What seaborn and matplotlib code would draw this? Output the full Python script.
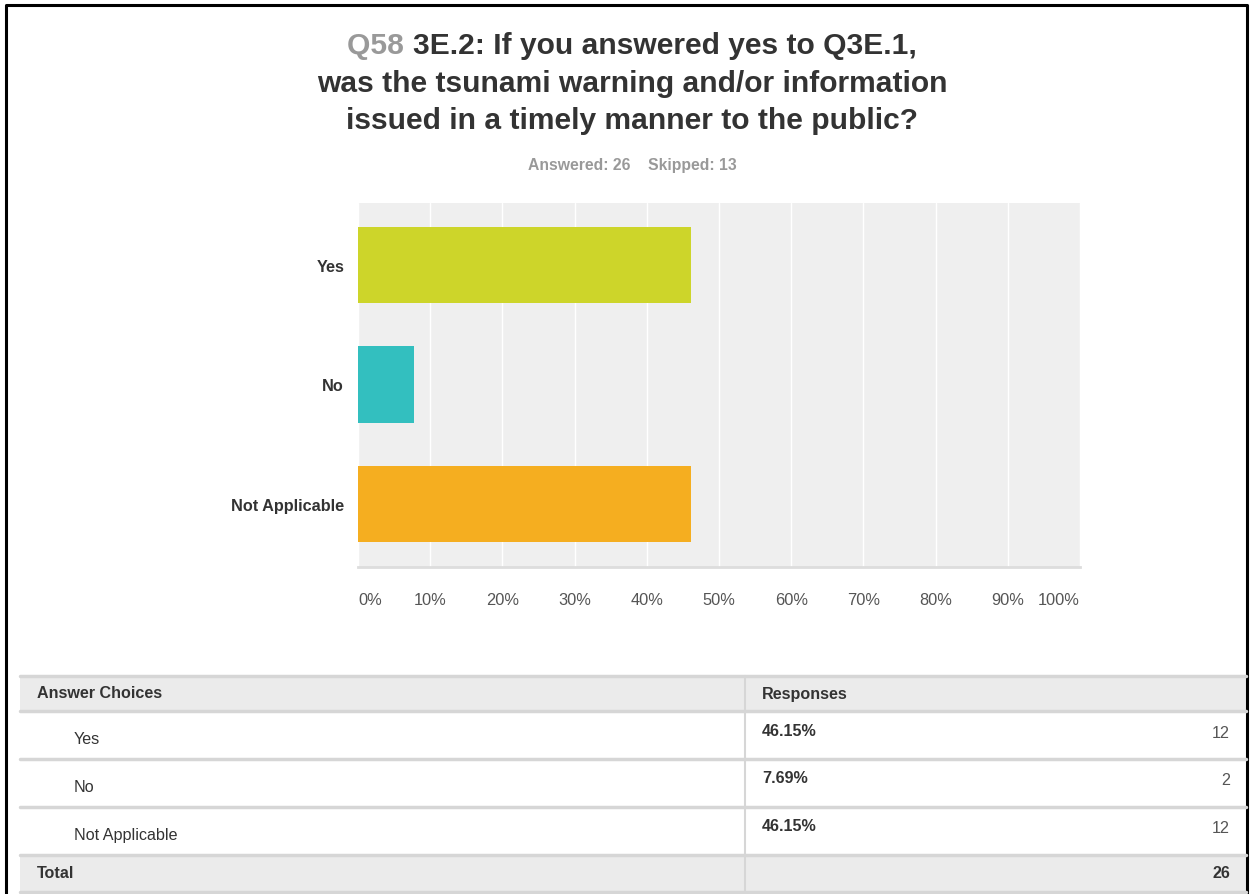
import matplotlib
matplotlib.use("Agg")
import matplotlib.pyplot as plt
import seaborn as sns
import pandas as pd
from matplotlib.patches import Rectangle

# === Data
categories = ["Yes", "No", "Not Applicable"]
percents = [46.15, 7.69, 46.15]
counts = [12, 2, 12]
total = 26
skipped = 13
bar_colors = ["#CDD52A", "#33BFBF", "#F5AE20"]
xticks = [0, 10, 20, 30, 40, 50, 60, 70, 80, 90, 100]

sns.set_theme(style="white")
plt.rcParams["font.family"] = ["Liberation Sans", "DejaVu Sans"]

W, H = 1251, 895
fig = plt.figure(figsize=(W / 100, H / 100), dpi=100)

# === Overlay axes in pixel coords for border, title and table
bg = fig.add_axes([0, 0, 1, 1])
bg.set_xlim(0, W)
bg.set_ylim(H, 0)
bg.axis("off")

# === Bar chart
ax = fig.add_axes([358 / W, 1 - 568 / H, (1080 - 358) / W, (568 - 204) / H])
df = pd.DataFrame({"choice": categories, "pct": percents})
sns.barplot(data=df, x="pct", y="choice", hue="choice", palette=bar_colors,
            orient="h", width=0.64, legend=False, ax=ax, saturation=1, linewidth=0)
ax.set_facecolor("#EFEFEF")
ax.set_xlim(0, 100)
ax.set_ylim(2.53, -0.52)
ax.set_xticks(xticks)
ax.set_xticklabels([f"{t}%" for t in xticks], fontsize=11.8, color="#555555")
for i, lbl in enumerate(ax.get_xticklabels()):
    if i == 0:
        lbl.set_horizontalalignment("left")
    elif i == len(xticks) - 1:
        lbl.set_horizontalalignment("right")
ax.tick_params(axis="x", length=0, pad=18)
ax.tick_params(axis="y", length=0, pad=10)
for lbl in ax.get_yticklabels():
    lbl.set_fontweight("bold")
    lbl.set_fontsize(11.7)
    lbl.set_color("#333333")
ax.set_xlabel("")
ax.set_ylabel("")
ax.set_axisbelow(True)
ax.grid(axis="x", color="white", linewidth=1.0)
for s in ["top", "left", "right"]:
    ax.spines[s].set_visible(False)
ax.spines["bottom"].set_color("#DDDDDD")
ax.spines["bottom"].set_linewidth(2)

# === Outer border
bg.plot([6, 6, 1247, 1247], [H, 6, 6, H], color="black", linewidth=2.2, clip_on=False)

# === Title
renderer = fig.canvas.get_renderer()
title_kw = dict(fontsize=21.6, fontweight="bold", va="center")
first_q = "Q58 "
first_rest = "3E.2: If you answered yes to Q3E.1,"
tmp = bg.text(0, 0, first_q + first_rest, **title_kw)
full_w = tmp.get_window_extent(renderer).width
tmp.remove()
tmp = bg.text(0, 0, first_q, **title_kw)
q_w = tmp.get_window_extent(renderer).width
tmp.remove()
cx = 632
x0 = cx - full_w / 2
bg.text(x0, 46, first_q, color="#999999", ha="left", **title_kw)
bg.text(x0 + q_w, 46, first_rest, color="#333333", ha="left", **title_kw)
bg.text(cx, 84, "was the tsunami warning and/or information", color="#333333", ha="center", **title_kw)
bg.text(cx, 121, "issued in a timely manner to the public?", color="#333333", ha="center", **title_kw)
bg.text(cx, 165, f"Answered: {total}    Skipped: {skipped}", color="#999999",
        ha="center", va="center", fontsize=11.3, fontweight="bold")

# === Table
tl, tr, tdiv = 20, 1246, 745
row_edges = [677, 712, 760, 808, 856, 893]
line_c = "#D6D6D6"
bg.add_patch(Rectangle((tl, 677), tr - tl, 35, facecolor="#EBEBEB", edgecolor="none"))
bg.add_patch(Rectangle((tl, 856), tr - tl, 37, facecolor="#EBEBEB", edgecolor="none"))
for y in row_edges:
    bg.plot([tl, tr], [y, y], color=line_c, linewidth=2.5)
bg.plot([tdiv, tdiv], [677, 893], color=line_c, linewidth=1.5)

txt_c = "#333333"
fs = 11.6
bg.text(37, 694, "Answer Choices", fontsize=fs, fontweight="bold", color=txt_c, va="center")
bg.text(762, 694, "Responses", fontsize=fs, fontweight="bold", color=txt_c, va="center")
for i, (cat, pct, n) in enumerate(zip(categories, percents, counts)):
    top = row_edges[1 + i]
    bg.text(74, top + 28, cat, fontsize=fs, color=txt_c, va="center")
    bg.text(762, top + 19, f"{pct:.2f}%", fontsize=fs, fontweight="bold", color=txt_c, va="center")
    bg.text(1230, top + 21, str(n), fontsize=fs, color="#555555", va="center", ha="right")
bg.text(37, 874, "Total", fontsize=fs, fontweight="bold", color=txt_c, va="center")
bg.text(1230, 874, str(total), fontsize=fs, fontweight="bold", color=txt_c, va="center", ha="right")

fig.savefig("out.png", dpi=100)
